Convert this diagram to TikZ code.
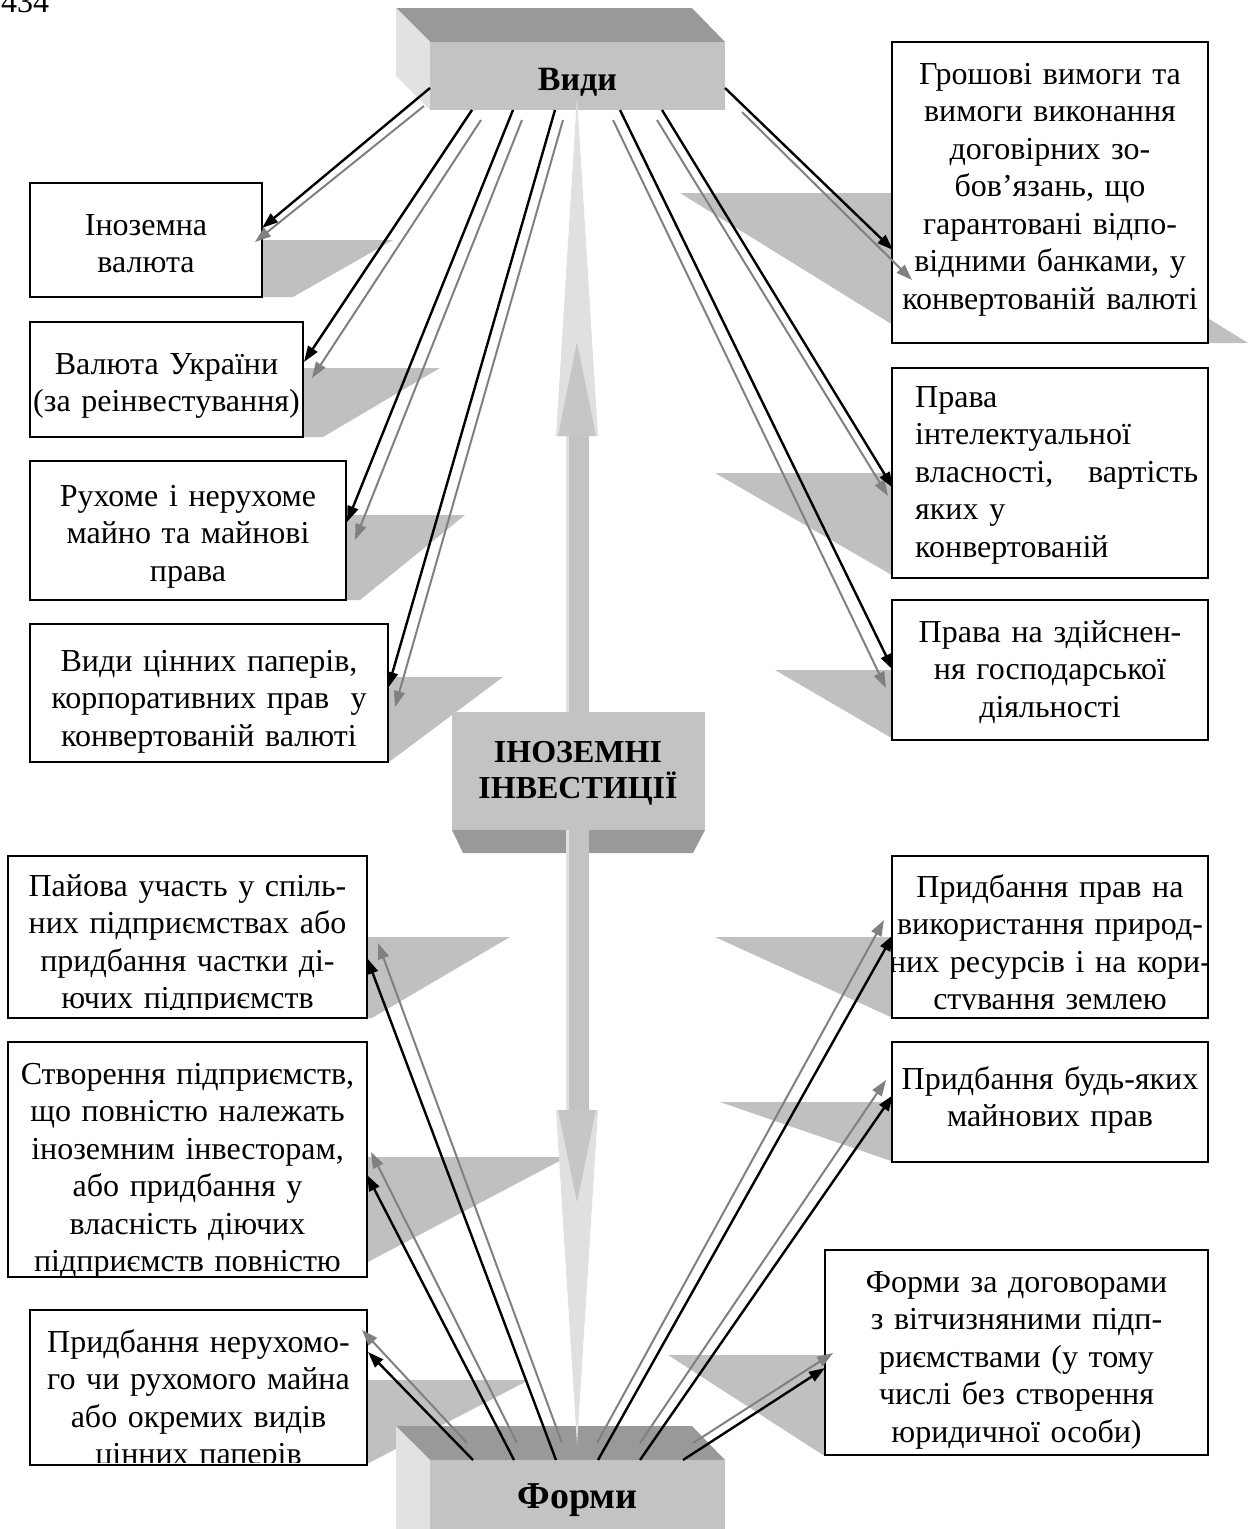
\documentclass[tikz,border=0pt]{standalone}
\usepackage{fontspec}
\setmainfont{Liberation Serif}
\usetikzlibrary{arrows.meta}
\definecolor{shadowgray}{HTML}{C0C0C0}
\definecolor{facefront}{HTML}{C3C3C3}
\definecolor{facetop}{HTML}{999999}
\definecolor{faceside}{HTML}{E2E2E2}
\definecolor{needlegray}{HTML}{E0E0E0}
\definecolor{headgray}{HTML}{C6C6C6}
\definecolor{arrowgray}{HTML}{808080}
\tikzset{
  box/.style={draw=black, line width=2.4pt, fill=white, inner sep=0pt, outer sep=0pt},
  txt/.style={font=\fontsize{32}{37.5}\selectfont, align=center, inner sep=0pt, text width=#1, anchor=base},
  txt/.default=360pt,
  front3d/.style={fill=facefront, inner sep=0pt, outer sep=0pt},
  title/.style={font=\fontsize{#1}{36}\selectfont\bfseries, inner sep=0pt, anchor=base},
  shadowpoly/.style={fill=shadowgray},
  kline/.style={draw=black, line width=2.4pt, -{Triangle[length=16pt,width=11pt]}},
  gline/.style={draw=arrowgray, line width=2pt, -{Triangle[length=16pt,width=11pt]}}
}
\begin{document}
\begin{tikzpicture}[x=1pt,y=-1pt]
\useasboundingbox (0,0) rectangle (1252,1529);

% page number, cut by the top edge
\node[font=\fontsize{32}{36}\selectfont, inner sep=0pt, anchor=base west] (pagenum) at (1,12) {434};

% ---------- shadows behind the boxes ----------
\fill[shadowpoly] (100,240) -- (393,240) -- (293,297) -- (100,297) -- cycle;
\fill[shadowpoly] (100,368) -- (440,368) -- (323,437) -- (100,437) -- cycle;
\fill[shadowpoly] (100,515) -- (465,515) -- (360,600) -- (100,600) -- cycle;
\fill[shadowpoly] (100,677) -- (503,677) -- (389,762) -- (100,762) -- cycle;
\fill[shadowpoly] (100,937) -- (510,937) -- (372,1018) -- (100,1018) -- cycle;
\fill[shadowpoly] (100,1157) -- (567,1157) -- (349,1272) -- (100,1272) -- cycle;
\fill[shadowpoly] (100,1380) -- (529,1380) -- (365,1465) -- (100,1465) -- cycle;
\fill[shadowpoly] (680,193) -- (1006,193) -- (1248,343) -- (922,343) -- cycle;
\fill[shadowpoly] (715,473) -- (1000,473) -- (1000,578) -- (897,578) -- cycle;
\fill[shadowpoly] (775,670) -- (1000,670) -- (1000,740) -- (895,740) -- cycle;
\fill[shadowpoly] (715,937) -- (1000,937) -- (1000,1018) -- (893,1018) -- cycle;
\fill[shadowpoly] (720,1102) -- (1000,1102) -- (1000,1162) -- (894,1162) -- cycle;
\fill[shadowpoly] (668,1355) -- (1000,1355) -- (1000,1455) -- (823,1455) -- cycle;

% ---------- three-dimensional blocks ----------
% Види
\fill[facetop] (396,8) -- (692,8) -- (725,42) -- (430,42) -- cycle;
\fill[faceside] (396,8) -- (430,42) -- (430,110) -- (396,76) -- cycle;
\node[front3d, minimum width=295pt, minimum height=68pt] (vydy) at (577.5,76) {};
\node[title=34] (vydyT) at (577.5,90) {Види};

% ІНОЗЕМНІ ІНВЕСТИЦІЇ
\node[front3d, minimum width=253pt, minimum height=118pt] (inv) at (578.5,771) {};
\fill[facetop] (452,830) -- (705,830) -- (693,853) -- (463,853) -- cycle;
\node[title=32, align=center, text width=250pt] (invT) at (578,762) {ІНОЗЕМНІ\\ІНВЕСТИЦІЇ};

% Форми
\fill[facetop] (396,1426) -- (692,1426) -- (725,1460) -- (430,1460) -- cycle;
\fill[faceside] (396,1426) -- (430,1460) -- (430,1535) -- (396,1535) -- cycle;
\node[front3d, minimum width=295pt, minimum height=80pt, anchor=north] (formy) at (577.5,1460) {};
\node[title=38] (formyT) at (577.5,1508) {Форми};

% ---------- central two-way arrow ----------
\fill[facefront] (566,436) rectangle (589,712);
\fill[needlegray] (566,436) rectangle (569,712);
\fill[needlegray] (577,97) -- (598,436) -- (556,436) -- cycle;
\fill[headgray] (577,342) -- (596,436) -- (558,436) -- cycle;

\fill[facefront] (566,830) rectangle (589,1110);
\fill[needlegray] (566,830) rectangle (569,1110);
\fill[needlegray] (556,1110) -- (598,1110) -- (577,1445) -- cycle;
\fill[headgray] (558,1110) -- (596,1110) -- (577,1202) -- cycle;

% ---------- text boxes ----------
\node[box, minimum width=232pt, minimum height=114pt] (b1) at (146,240) {};
\node[box, minimum width=273pt, minimum height=115pt] (b2) at (166.5,379.5) {};
\node[box, minimum width=316pt, minimum height=139pt] (b3) at (188,530.5) {};
\node[box, minimum width=358pt, minimum height=138pt] (b4) at (209,693) {};
\node[box, minimum width=316pt, minimum height=301pt] (b5) at (1050,192.5) {};
\node[box, minimum width=316pt, minimum height=210pt] (b6) at (1050,473) {};
\node[box, minimum width=316pt, minimum height=140pt] (b7) at (1050,670) {};
\node[box, minimum width=359pt, minimum height=162pt] (b8) at (187.5,937) {};
\node[box, minimum width=359pt, minimum height=235pt] (b9) at (187.5,1159.5) {};
\node[box, minimum width=337pt, minimum height=155pt] (b10) at (198.5,1387.5) {};
\node[box, minimum width=316pt, minimum height=162pt] (b11) at (1050,937) {};
\node[box, minimum width=316pt, minimum height=120pt] (b12) at (1050,1102) {};
\node[box, minimum width=383pt, minimum height=205pt] (b13) at (1016.5,1352.5) {};

\node[txt] (t1) at (146,235) {Іноземна\\валюта};
\node[txt] (t2) at (166.5,374) {Валюта України\\(за реінвестування)};
\node[txt] (t3) at (188,506) {Рухоме і нерухоме\\майно та майнові\\права};
\node[txt] (t4) at (209,671) {Види цінних паперів,\\корпоративних прав\ \ у\\конвертованій валюті};
\node[txt] (t5) at (1050,84) {Грошові вимоги та\\вимоги виконання\\договірних зо-\\бов’язань, що\\гарантовані відпо-\\відними банками, у\\конвертованій валюті};
\node[txt=285pt, align=left, anchor=base west] (t6) at (915,407) {Права\\інтелектуальної\\\makebox[283pt]{власності,\hfill вартість}\\яких у\\конвертованій};
\node[txt] (t7) at (1050,642) {Права на здійснен-\\ня господарської\\діяльності};
\begin{scope}
  \clip (b8.north west) rectangle ([yshift=9pt]b8.south east);
  \node[txt] (t8) at (187.5,896) {Пайова участь у спіль-\\них підприємствах або\\придбання частки ді-\\ючих підприємств};
\end{scope}
\node[txt=370pt] (t9) at (187.5,1084) {Створення підприємств,\\що повністю належать\\іноземним інвесторам,\\або придбання у\\власність діючих\\підприємств повністю};
\begin{scope}
  \clip (b10.north west) rectangle ([yshift=3pt]b10.south east);
  \node[txt] (t10) at (198.5,1352) {Придбання нерухомо-\\го чи рухомого майна\\або окремих видів\\цінних паперів};
\end{scope}
\begin{scope}
  \clip (b11.north west) rectangle ([yshift=9pt]b11.south east);
  \node[txt] (t11) at (1050,897) {Придбання прав на\\використання природ-\\них ресурсів і на кори-\\стування землею};
\end{scope}
\node[txt] (t12) at (1050,1089) {Придбання будь-яких\\майнових прав};
\node[txt] (t13) at (1016.5,1292) {Форми за договорами\\з вітчизняними підп-\\риємствами (у тому\\числі без створення\\юридичної особи)};

% ---------- connector end points ----------
% from Види to the kinds
\coordinate (a1ks) at (430,88);  \coordinate (a1ke) at (262,228);
\coordinate (a1gs) at (424,106); \coordinate (a1ge) at (255,242);
\coordinate (a2ks) at (472,110); \coordinate (a2ke) at (304,362);
\coordinate (a2gs) at (481,120); \coordinate (a2ge) at (312,378);
\coordinate (a3ks) at (513,110); \coordinate (a3ke) at (347,522);
\coordinate (a3gs) at (522,120); \coordinate (a3ge) at (355,540);
\coordinate (a4ks) at (555,110); \coordinate (a4ke) at (388,688);
\coordinate (a4gs) at (563,120); \coordinate (a4ge) at (395,707);
\coordinate (a5ks) at (725,88);  \coordinate (a5ke) at (893,250);
\coordinate (a5gs) at (742,112); \coordinate (a5ge) at (912,280);
\coordinate (a6ks) at (662,110); \coordinate (a6ke) at (893,488);
\coordinate (a6gs) at (657,120); \coordinate (a6ge) at (888,496);
\coordinate (a7ks) at (620,110); \coordinate (a7ke) at (893,670);
\coordinate (a7gs) at (613,120); \coordinate (a7ge) at (886,688);
% from Форми to the forms
\coordinate (f8ks) at (556,1460);  \coordinate (f8ke) at (367,958);
\coordinate (f8gs) at (562,1443);  \coordinate (f8ge) at (378,943);
\coordinate (f9ks) at (514,1460);  \coordinate (f9ke) at (367,1175);
\coordinate (f9gs) at (517,1443);  \coordinate (f9ge) at (371,1152);
\coordinate (f10ks) at (473,1460); \coordinate (f10ke) at (368,1352);
\coordinate (f10gs) at (467,1443); \coordinate (f10ge) at (362,1330);
\coordinate (f11ks) at (598,1460); \coordinate (f11ke) at (893,935);
\coordinate (f11gs) at (597,1443); \coordinate (f11ge) at (884,920);
\coordinate (f12ks) at (640,1460); \coordinate (f12ke) at (893,1095);
\coordinate (f12gs) at (640,1443); \coordinate (f12ge) at (886,1080);
\coordinate (f13ks) at (683,1460); \coordinate (f13ke) at (825,1368);
\coordinate (f13gs) at (693,1443); \coordinate (f13ge) at (833,1353);

\foreach \n in {a1,a2,a3,a4,a5,a6,a7,f8,f9,f10,f11,f12,f13}{
  \draw[gline] (\n gs) -- (\n ge);
  \draw[kline] (\n ks) -- (\n ke);
}
\end{tikzpicture}
\end{document}
